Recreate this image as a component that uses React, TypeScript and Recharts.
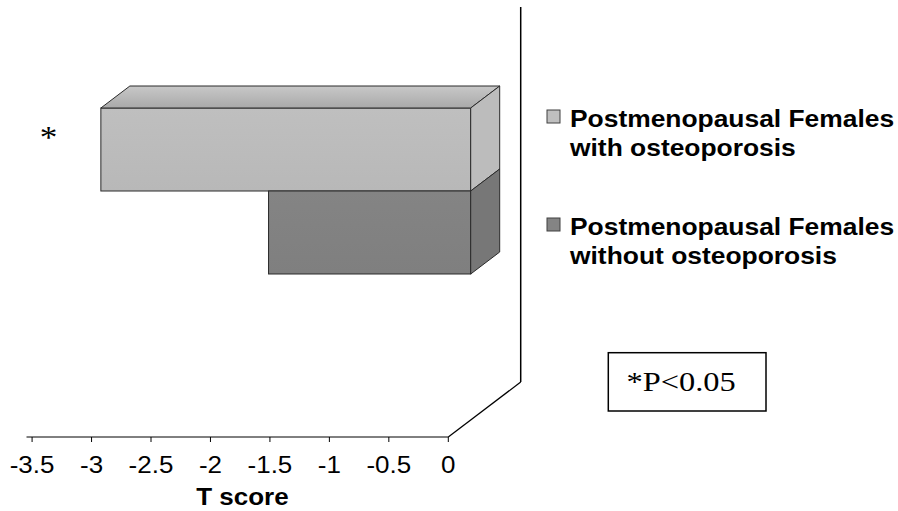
import React from 'react';
import { BarChart, Bar, XAxis, YAxis, Legend, Customized } from 'recharts';

// ---- data ----
const categories = ['T score'];
const withOsteoporosis = [-3.11];
const withoutOsteoporosis = [-1.7];
const xTicks = [-3.5, -3, -2.5, -2, -1.5, -1, -0.5, 0];
const seriesNames = [
  'Postmenopausal Females with osteoporosis',
  'Postmenopausal Females without osteoporosis',
];
const legendLines = [
  ['Postmenopausal Females', 'with osteoporosis'],
  ['Postmenopausal Females', 'without osteoporosis'],
];
const axisTitle = 'T score';
const starLabel = '*';
const noteText = '*P<0.05';

const data = categories.map((c, i) => ({
  name: c,
  withOsteo: withOsteoporosis[i],
  withoutOsteo: withoutOsteoporosis[i],
}));

// ---- layout / style ----
const W = 898;
const H = 511;
const PLOT_LEFT = 26.5;
const PLOT_RIGHT = 448.3;
const PLOT_TOP = 62;
const PLOT_BOTTOM = 437;
const DEPTH_X = 72.4;
const DEPTH_Y = -55;
const BAR_DX = 22.4;
const BAR_DY = -17;
const BAR_DEPTH_X = 29;
const BAR_DEPTH_Y = -22;
const SANS = '"Liberation Sans", Arial, Helvetica, sans-serif';
const SERIF = '"Liberation Serif", "Times New Roman", serif';
const SX = 1.13;

const LIGHT = { front: '#bfbfbf', frontB: '#b8b8b8', topA: '#c8c8c8', topB: '#a9a9a9', side: '#bcbcbc' };
const DARK = { front: '#848484', frontB: '#7f7f7f', topA: '#8c8c8c', topB: '#747474', side: '#777777' };
const EDGE = '#2a2a2a';

const SText = ({ x, y, sx = SX, children, ...rest }: any) => (
  <text transform={`translate(${x},${y}) scale(${sx},1)`} x={0} y={0} {...rest}>
    {children}
  </text>
);

const makeShape = (colors: any, showTop: boolean, id: string) => (p: any) => {
  const { x, y, width, height } = p;
  if (x == null || y == null) return null;
  const x0 = Math.min(x, x + width) + BAR_DX;
  const w = Math.abs(width);
  const y0 = Math.min(y, y + height) + BAR_DY;
  const h = Math.abs(height);
  const ex = BAR_DEPTH_X;
  const ey = BAR_DEPTH_Y;
  return (
    <g>
      <defs>
        <linearGradient id={`top-${id}`} x1="0" y1="0" x2="0" y2="1">
          <stop offset="0" stopColor={colors.topA} />
          <stop offset="1" stopColor={colors.topB} />
        </linearGradient>
        <linearGradient id={`front-${id}`} x1="0" y1="0" x2="0" y2="1">
          <stop offset="0" stopColor={colors.front} />
          <stop offset="1" stopColor={colors.frontB} />
        </linearGradient>
      </defs>
      <rect x={x0} y={y0} width={w} height={h} fill={`url(#front-${id})`} stroke={EDGE} strokeWidth={1} />
      {showTop && (
        <polygon
          points={`${x0},${y0} ${x0 + ex},${y0 + ey} ${x0 + w + ex},${y0 + ey} ${x0 + w},${y0}`}
          fill={`url(#top-${id})`}
          stroke={EDGE}
          strokeWidth={1}
          strokeLinejoin="round"
        />
      )}
      <polygon
        points={`${x0 + w},${y0} ${x0 + w + ex},${y0 + ey} ${x0 + w + ex},${y0 + h + ey} ${x0 + w},${y0 + h}`}
        fill={colors.side}
        stroke={EDGE}
        strokeWidth={1}
        strokeLinejoin="round"
      />
    </g>
  );
};

const Tick = ({ x, y, payload }: any) => (
  <SText x={x} y={y + 31} textAnchor="middle" fontSize={23} fontFamily={SANS} fill="#000">
    {payload.value}
  </SText>
);

const AxisTitle = ({ viewBox }: any) => {
  const vb = viewBox || { x: PLOT_LEFT, y: PLOT_BOTTOM, width: PLOT_RIGHT - PLOT_LEFT };
  return (
    <SText
      x={vb.x + vb.width / 2 + 5}
      y={vb.y + 68}
      textAnchor="middle"
      fontSize={23}
      fontWeight="bold"
      fontFamily={SANS}
      fill="#000"
    >
      {axisTitle}
    </SText>
  );
};

const Frame = () => (
  <g>
    <line
      x1={PLOT_RIGHT + DEPTH_X}
      y1={PLOT_TOP + DEPTH_Y}
      x2={PLOT_RIGHT + DEPTH_X}
      y2={PLOT_BOTTOM + DEPTH_Y}
      stroke="#000"
      strokeWidth={1.5}
    />
    <line
      x1={PLOT_RIGHT}
      y1={PLOT_BOTTOM}
      x2={PLOT_RIGHT + DEPTH_X}
      y2={PLOT_BOTTOM + DEPTH_Y}
      stroke="#000"
      strokeWidth={1.2}
    />
    <SText x={48.5} y={148} sx={1.1} textAnchor="middle" fontSize={32} fontFamily={SERIF} fill="#000">
      {starLabel}
    </SText>
    <rect x={608.3} y={352.7} width={157.7} height={58.3} fill="#fff" stroke="#000" strokeWidth={1.5} />
    <SText x={626.5} y={391} sx={1.2} fontSize={27} fontFamily={SERIF} fill="#000">
      {noteText}
    </SText>
  </g>
);

const legendColors = [LIGHT.front, DARK.front];
const legendTops = [110, 218];

const LegendContent = ({ payload }: any) => {
  const items = payload && payload.length ? payload : seriesNames.map((n) => ({ value: n }));
  return (
    <svg width={W} height={H} style={{ display: 'block' }}>
      {items.map((_: any, i: number) => {
        const top = legendTops[i];
        const lines = legendLines[i];
        return (
          <g key={i}>
            <rect x={547} y={top} width={13} height={13} fill={legendColors[i]} stroke="#404040" strokeWidth={1} />
            {lines.map((ln, j) => (
              <SText
                key={j}
                x={570}
                y={top + 16.7 + j * 29}
                sx={1.1}
                fontSize={24}
                fontWeight="bold"
                fontFamily={SANS}
                fill="#000"
              >
                {ln}
              </SText>
            ))}
          </g>
        );
      })}
    </svg>
  );
};

export default function App() {
  return (
    <div style={{ position: 'absolute', left: 0, top: 0, width: W, height: H, background: '#fff' }}>
      <BarChart
        width={W}
        height={H}
        data={data}
        layout="vertical"
        margin={{ top: PLOT_TOP, left: PLOT_LEFT, right: W - PLOT_RIGHT, bottom: 0 }}
        barGap={0}
        barSize={83}
      >
        <XAxis
          type="number"
          domain={[-3.547, 0]}
          ticks={xTicks}
          interval={0}
          height={H - PLOT_BOTTOM}
          tickSize={5}
          tickMargin={0}
          tick={<Tick />}
          axisLine={{ stroke: '#000', strokeWidth: 1 }}
          tickLine={{ stroke: '#000', strokeWidth: 1 }}
          label={{ value: axisTitle, content: AxisTitle }}
        />
        <YAxis type="category" dataKey="name" hide padding={{ top: 0, bottom: 84 }} />
        <Customized component={<Frame />} />
        <Bar
          dataKey="withOsteo"
          name={seriesNames[0]}
          fill={LIGHT.front}
          isAnimationActive={false}
          shape={makeShape(LIGHT, true, 'a')}
        />
        <Bar
          dataKey="withoutOsteo"
          name={seriesNames[1]}
          fill={DARK.front}
          isAnimationActive={false}
          shape={makeShape(DARK, false, 'b')}
        />
        <Legend
          layout="horizontal"
          verticalAlign="middle"
          align="center"
          content={<LegendContent />}
          wrapperStyle={{ position: 'absolute', left: 0, top: 0, width: W, height: H, pointerEvents: 'none' }}
        />
      </BarChart>
    </div>
  );
}
